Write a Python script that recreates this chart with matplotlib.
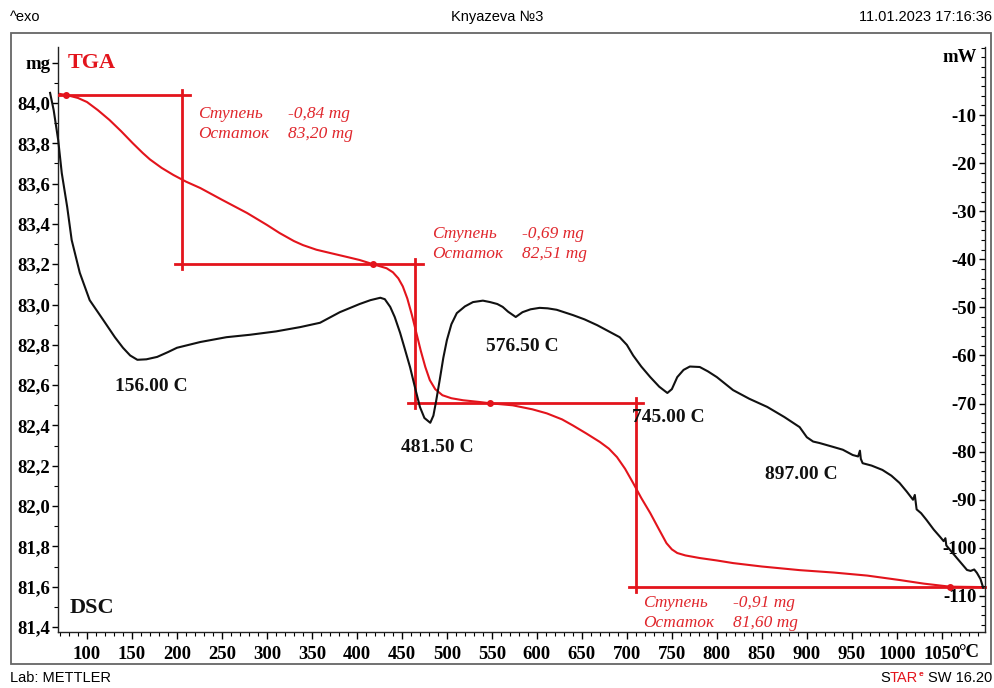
import matplotlib
matplotlib.use('Agg')
import matplotlib.pyplot as plt
from matplotlib.patches import Rectangle
from matplotlib.ticker import FixedLocator, MultipleLocator, FuncFormatter
import matplotlib.transforms as mtransforms

# TGA curve: temperature (°C) and sample mass (mg)
TGA_TEMP = [70, 77, 90, 100, 112, 125, 138, 151, 162, 170, 183, 196, 210, 226, 250, 278,
            300, 314, 330, 340, 355, 370, 390, 403, 418, 433, 440, 446, 451, 456, 461,
            466, 471, 476, 481, 487, 495, 505, 518, 535, 548, 573, 595, 611, 628, 640,
            655, 670, 680, 689, 698, 707, 716, 726, 735, 744, 750, 756, 765, 781, 800,
            818, 850, 892, 930, 967, 1003, 1030, 1059, 1094]
TGA_MASS = [84.045, 84.04, 84.025, 84.005, 83.965, 83.916, 83.86, 83.80, 83.752, 83.72,
            83.678, 83.643, 83.61, 83.578, 83.52, 83.454, 83.395, 83.355, 83.315, 83.295,
            83.272, 83.256, 83.235, 83.221, 83.20, 83.18, 83.16, 83.13, 83.09, 83.03,
            82.95, 82.86, 82.77, 82.69, 82.625, 82.58, 82.55, 82.535, 82.525, 82.517,
            82.51, 82.50, 82.48, 82.46, 82.43, 82.40, 82.36, 82.318, 82.285, 82.243,
            82.185, 82.114, 82.04, 81.965, 81.89, 81.816, 81.785, 81.767, 81.755, 81.742,
            81.73, 81.717, 81.70, 81.682, 81.67, 81.655, 81.633, 81.615, 81.60, 81.598]

# DSC curve: temperature (°C) and heat flow (mW)
DSC_TEMP = [59, 63, 68, 72, 78, 83, 92, 103, 118, 131, 140, 148, 156, 166, 178, 190, 200,
            226, 255, 281, 310, 337, 359, 381, 403, 415, 426, 431, 437, 442, 448, 453, 459,
            465, 470, 475, 481.5, 485, 488, 492, 496, 500, 505, 511, 520, 529, 540, 548,
            556, 562, 568, 576.5, 584, 593, 603, 612, 622, 640, 653, 667, 680, 692, 700,
            707, 716, 726, 736, 745, 750, 756, 763, 770, 781, 790, 800, 818, 836, 856, 875,
            892, 900, 907, 914, 929, 940, 951, 957, 959, 960, 962, 972, 984, 994, 1003,
            1011, 1018, 1020, 1022, 1027, 1033, 1041, 1048, 1052, 1054, 1055, 1059, 1068,
            1078, 1082, 1086, 1089, 1093, 1096]
DSC_POWER = [-5.4, -9.0, -15.2, -22.1, -29.1, -36.0, -42.8, -48.5, -52.6, -56.2, -58.4,
             -60.0, -60.9, -60.8, -60.3, -59.3, -58.4, -57.2, -56.2, -55.7, -55.0, -54.1,
             -53.2, -51.0, -49.3, -48.5, -48.0, -48.3, -49.9, -52.0, -55.3, -58.5, -62.4,
             -67.0, -70.7, -73.0, -74.0, -72.5, -69.5, -65.1, -60.5, -56.8, -53.5, -51.2,
             -49.8, -48.9, -48.6, -48.9, -49.3, -49.9, -50.9, -52.0, -51.0, -50.4, -50.1,
             -50.2, -50.5, -51.6, -52.5, -53.7, -55.0, -56.2, -57.8, -60.0, -62.3, -64.5,
             -66.5, -67.8, -67.0, -64.5, -63.0, -62.3, -62.4, -63.3, -64.5, -67.2, -69.0,
             -70.7, -72.8, -74.9, -77.0, -77.9, -78.2, -79.0, -79.6, -80.7, -81.0, -79.8,
             -81.5, -82.4, -82.9, -83.8, -85.0, -86.5, -88.3, -90.0, -89.0, -92.0, -92.8,
             -94.2, -96.2, -97.7, -98.6, -98.0, -99.5, -100.4, -102.4, -104.6, -104.8,
             -104.5, -105.2, -106.5, -108.3]

# mass-loss steps: vertical marker temperature, level before, level after
STEP_TEMP = [206, 465, 710]
STEP_START = [84.04, 83.20, 82.51]
STEP_END = [83.20, 82.51, 81.60]
STEP_LOSS = ['-0,84', '-0,69', '-0,91']
STEP_REST = ['83,20', '82,51', '81,60']
STEP_DOT_TEMP = [77, 418, 548, 1059]
STEP_DOT_MASS = [84.04, 83.20, 82.51, 81.60]

# DSC peak temperatures and label spots (mW axis)
PEAK_LABELS = ['156.00 C', '481.50 C', '576.50 C', '745.00 C', '897.00 C']
PEAK_LABEL_POS = [(172, -66.5), (489, -79.2), (584, -58.2), (746, -73.0), (894, -84.8)]

X_TICKS = list(range(100, 1051, 50))
MASS_TICKS = [81.4, 81.6, 81.8, 82.0, 82.2, 82.4, 82.6, 82.8, 83.0, 83.2, 83.4, 83.6,
              83.8, 84.0, 84.2]
POWER_TICKS = list(range(-110, -9, 10))

RED = '#e3141c'
TEXT_RED = '#e0272d'
BLACK = '#111111'

plt.rcParams['font.family'] = ['Liberation Serif', 'DejaVu Serif']
plt.rcParams['font.weight'] = 'bold'
plt.rcParams['axes.unicode_minus'] = False

fig = plt.figure(figsize=(9.94, 6.88), dpi=100)
ax = fig.add_axes([58 / 994, 56 / 688, 927 / 994, 585 / 688])
ax2 = ax.twinx()

ax.set_xlim(67.8, 1098)
ax.set_ylim(81.375, 84.278)
ax2.set_ylim(-117.5, 4.14)

for a in (ax, ax2):
    a.spines['top'].set_visible(False)
    for s in a.spines.values():
        s.set_linewidth(1.0)
        s.set_color('#222222')
ax.spines['right'].set_visible(False)
ax2.spines['left'].set_visible(False)
ax2.spines['bottom'].set_visible(False)

# x axis
ax.xaxis.set_major_locator(FixedLocator(X_TICKS))
ax.xaxis.set_minor_locator(MultipleLocator(10))
ax.tick_params(axis='x', which='major', direction='out', length=5, width=1, pad=5, labelsize=13.5)
ax.tick_params(axis='x', which='minor', direction='out', length=3, width=0.8)

# mass axis (left)
ax.yaxis.set_major_locator(FixedLocator(MASS_TICKS))
ax.yaxis.set_minor_locator(MultipleLocator(0.1))
ax.yaxis.set_major_formatter(FuncFormatter(
    lambda v, p: 'mg' if v > 84.1 else f'{v:.1f}'.replace('.', ',')))
ax.tick_params(axis='y', which='major', direction='out', length=4, width=1, pad=1.5, labelsize=13.5)
ax.tick_params(axis='y', which='minor', direction='out', length=3, width=0.8)

# heat flow axis (right, labels drawn inside)
ax2.yaxis.set_major_locator(FixedLocator(POWER_TICKS))
ax2.yaxis.set_minor_locator(MultipleLocator(2))
ax2.tick_params(axis='y', which='major', direction='in', length=4, width=1, pad=-6, labelsize=13.5)
ax2.tick_params(axis='y', which='minor', direction='in', length=3, width=0.8)
for lbl in ax2.get_yticklabels():
    lbl.set_horizontalalignment('right')

# curves
ax2.plot(DSC_TEMP, DSC_POWER, color=BLACK, lw=1.5, clip_on=False, zorder=3)
ax.plot(TGA_TEMP, TGA_MASS, color=RED, lw=1.5, clip_on=False, zorder=4)
ax.plot(STEP_DOT_TEMP, STEP_DOT_MASS, 'o', color=RED, ms=4, zorder=5)

# step construction lines
xl = ax.get_xlim()
h_ext = 8
v_ext = 0.025
ax.plot([xl[0], STEP_TEMP[0] + h_ext], [STEP_START[0]] * 2, color=RED, lw=2, zorder=4)
for i, t in enumerate(STEP_TEMP):
    ax.plot([t, t], [STEP_START[i] + v_ext, STEP_END[i] - v_ext], color=RED, lw=2, zorder=4)
    right = STEP_TEMP[i + 1] + h_ext if i + 1 < len(STEP_TEMP) else xl[1]
    ax.plot([t - h_ext, right], [STEP_END[i]] * 2, color=RED, lw=2, zorder=4, clip_on=False)

# step annotations
ANN_POS = [(223, 83.926, 323), (484, 83.33, 584), (718, 81.50, 818)]
for (tx, my, vx), loss, rest in zip(ANN_POS, STEP_LOSS, STEP_REST):
    style = dict(color=TEXT_RED, fontsize=12.5, fontstyle='italic', fontweight='normal',
                 va='baseline', ha='left')
    ax.text(tx, my, 'Ступень', **style)
    ax.text(vx, my, f'{loss} mg', **style)
    ax.text(tx, my - 0.1, 'Остаток', **style)
    ax.text(vx, my - 0.1, f'{rest} mg', **style)

for txt, (px, py) in zip(PEAK_LABELS, PEAK_LABEL_POS):
    ax2.text(px, py, txt, fontsize=14, color=BLACK, ha='center', va='center', zorder=6)

ax.text(79, 84.199, 'TGA', color=RED, fontsize=16, ha='left', va='center')
ax.text(81, 81.494, 'DSC', color=BLACK, fontsize=16, ha='left', va='center')
ax2.text(1089, 2.0, 'mW', fontsize=13.5, ha='right', va='center')
trans = mtransforms.blended_transform_factory(ax.transData, ax.transAxes)
ax.text(1080, -0.035, '°C', transform=trans, fontsize=13.5, ha='center', va='center',
        clip_on=False)

# outer frame and page texts
fig.patches.append(Rectangle((11 / 994, 24 / 688), 980 / 994, 631 / 688, transform=fig.transFigure,
                             fill=False, edgecolor='#666666', lw=1.3))
sans = dict(family=['Liberation Sans', 'DejaVu Sans'], fontweight='normal', fontsize=10.5)
fig.text(10 / 994, 1 - 17 / 688, '^exo', ha='left', va='center', **sans)
fig.text(497 / 994, 1 - 17 / 688, 'Knyazeva №3', ha='center', va='center', **sans)
fig.text(992 / 994, 1 - 17 / 688, '11.01.2023 17:16:36', ha='right', va='center', **sans)
fig.text(10 / 994, 1 - 678 / 688, 'Lab: METTLER', ha='left', va='center', **sans)

# software logo, pieces chained right to left
sw = fig.text(992 / 994, 1 - 678 / 688, 'SW 16.20', ha='right', va='center', **sans)
star_tar = ax.annotate('TAR', xy=(0, 0.5), xycoords=sw, xytext=(-7, 0), textcoords='offset points',
                       ha='right', va='center', color=RED, annotation_clip=False, **sans)
ax.annotate('S', xy=(0, 0.5), xycoords=star_tar, ha='right', va='center',
            annotation_clip=False, **sans)
ax.annotate('e', xy=(1, 1), xycoords=star_tar, xytext=(0.5, 0), textcoords='offset points',
            ha='left', va='top', color=RED, fontsize=6, fontweight='bold',
            family=['Liberation Sans', 'DejaVu Sans'], annotation_clip=False)

fig.savefig('out.png', dpi=100)
